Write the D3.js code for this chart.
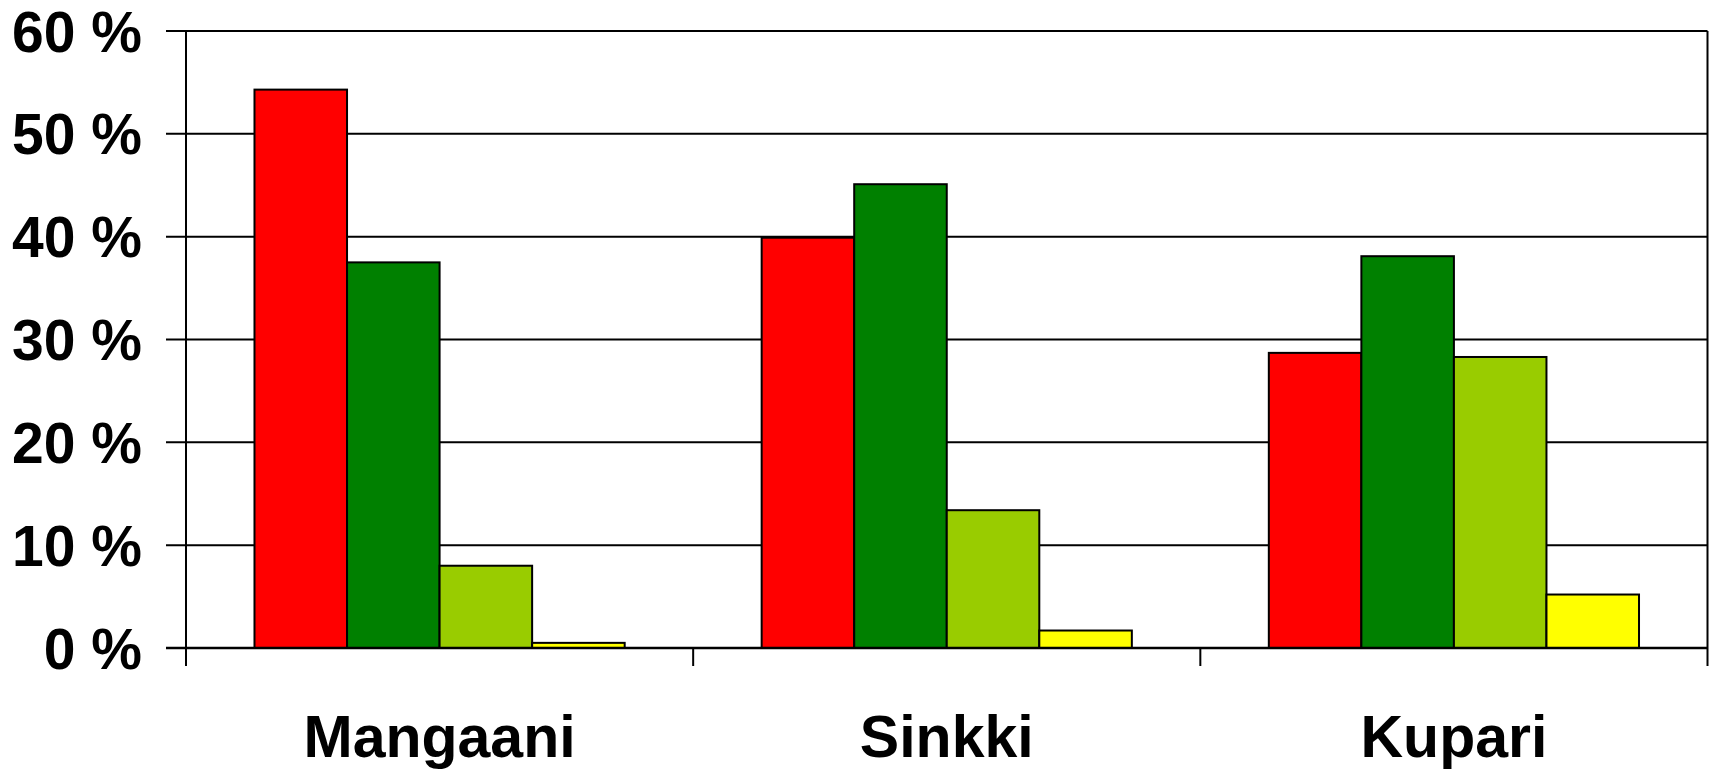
<!DOCTYPE html>
<html>
<head>
<meta charset="utf-8">
<script src="https://cdn.jsdelivr.net/npm/d3@7"></script>
<style>
  body { margin: 0; background: #fff; }
  svg { display: block; }
  text { font-family: "Liberation Sans", Arial, sans-serif; font-weight: bold; fill: #000; }
</style>
</head>
<body>
<svg id="chart" width="1713" height="769"></svg>
<script>
let categories = ['Mangaani', 'Sinkki', 'Kupari']
let series = ['s1', 's2', 's3', 's4']
let colors = ['#ff0000', '#008000', '#99cc00', '#ffff00']
let values = [
  [54.3, 37.5, 8.0, 0.5],
  [39.9, 45.1, 13.4, 1.7],
  [28.7, 38.1, 28.3, 5.2]
]
let yTicks = [0, 10, 20, 30, 40, 50, 60]

let width = 1713
let height = 769
let margin = { top: 31, right: 5.5, bottom: 121, left: 186 }

let svg = d3.select('#chart')

let x0 = d3.scaleBand()
  .domain(categories)
  .range([margin.left, width - margin.right])
  .padding(0)

let x1 = d3.scaleBand()
  .domain(series)
  .range([0, x0.bandwidth()])
  .paddingInner(0)
  .paddingOuter(0.74)

let y = d3.scaleLinear()
  .domain([0, 60])
  .range([height - margin.bottom, margin.top])

// gridlines + y ticks
svg.append('g')
  .selectAll('line')
  .data(yTicks.filter(d => d > 0))
  .enter()
  .append('line')
  .attr('x1', margin.left - 20)
  .attr('x2', width - margin.right)
  .attr('y1', d => y(d))
  .attr('y2', d => y(d))
  .attr('stroke', '#000')
  .attr('stroke-width', 2)

// bars
let groups = svg.append('g')
  .selectAll('g')
  .data(values)
  .enter()
  .append('g')
  .attr('transform', (d, i) => 'translate(' + x0(categories[i]) + ',0)')

groups.selectAll('rect')
  .data(d => d)
  .enter()
  .append('rect')
  .attr('x', (d, i) => x1(series[i]))
  .attr('width', x1.bandwidth())
  .attr('y', d => y(d))
  .attr('height', d => y(0) - y(d))
  .attr('fill', (d, i) => colors[i])
  .attr('stroke', '#000')
  .attr('stroke-width', 2)

// x axis line
svg.append('line')
  .attr('x1', margin.left - 20)
  .attr('x2', width - margin.right)
  .attr('y1', y(0))
  .attr('y2', y(0))
  .attr('stroke', '#000')
  .attr('stroke-width', 2.5)

// category ticks / side lines
let tickXs = categories.map(c => x0(c)).concat([width - margin.right])
svg.append('g')
  .selectAll('line')
  .data(tickXs)
  .enter()
  .append('line')
  .attr('x1', d => d)
  .attr('x2', d => d)
  .attr('y1', (d, i) => (i === 0 || i === tickXs.length - 1) ? margin.top : y(0))
  .attr('y2', y(0) + 18)
  .attr('stroke', '#000')
  .attr('stroke-width', 2)

// y labels
svg.append('g')
  .selectAll('text')
  .data(yTicks)
  .enter()
  .append('text')
  .attr('x', 142)
  .attr('y', d => y(d))
  .attr('dy', '0.36em')
  .attr('text-anchor', 'end')
  .style('font-size', '57px')
  .text(d => d + ' %')

// category labels
svg.append('g')
  .selectAll('text')
  .data(categories)
  .enter()
  .append('text')
  .attr('x', d => x0(d) + x0.bandwidth() / 2)
  .attr('y', 757)
  .attr('text-anchor', 'middle')
  .style('font-size', '59px')
  .text(d => d)
</script>
</body>
</html>
